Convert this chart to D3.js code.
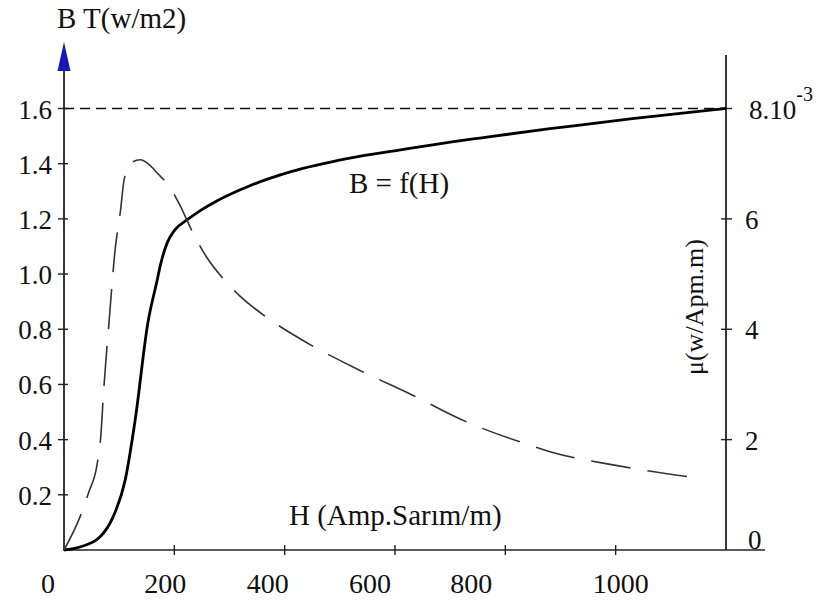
<!DOCTYPE html>
<html>
<head>
<meta charset="utf-8">
<script src="https://cdn.jsdelivr.net/npm/d3@7"></script>
<style>
  html, body { margin: 0; padding: 0; background: #fff; }
  svg { display: block; }
</style>
</head>
<body>
<svg id="chart" width="828" height="605"></svg>
<script>
(function () {
// ---- data ----
const bH = [0, 29, 65, 89, 111, 129, 152, 169, 174, 187, 201, 223, 247, 277, 337, 410, 518, 610, 700, 754, 881, 935, 1030, 1117, 1200];
const bValues = [0, 0.011, 0.047, 0.12, 0.254, 0.471, 0.823, 0.979, 1.026, 1.113, 1.16, 1.196, 1.23, 1.265, 1.32, 1.37, 1.42, 1.45, 1.478, 1.493, 1.527, 1.54, 1.563, 1.582, 1.6];
const muH = [0, 29, 45, 60, 67, 71, 83, 92, 103, 108, 114, 122, 138, 155, 169, 190, 210, 235, 259, 290, 319, 364, 431, 531, 631, 730, 832, 881, 1008, 1153];
const muValues = [0, 0.6, 1.05, 1.55, 2.1, 2.75, 4.3, 5.38, 6.2, 6.65, 6.9, 7.02, 7.07, 6.98, 6.83, 6.6, 6.25, 5.72, 5.3, 4.9, 4.6, 4.24, 3.81, 3.28, 2.81, 2.32, 1.94, 1.78, 1.52, 1.3];
const xTicks = [200, 400, 600, 800, 1000];
const xTickLabels = ["0", "200", "400", "600", "800", "1000"];
const xLabelValues = [0, 200, 400, 600, 800, 1000];
const bTicks = [0.2, 0.4, 0.6, 0.8, 1.0, 1.2, 1.4, 1.6];
const bTickLabels = ["0.2", "0.4", "0.6", "0.8", "1.0", "1.2", "1.4", "1.6"];
const muTicks = [2, 4, 6, 8];
const muTickLabels = ["2", "4", "6"];
const satB = 1.6;

// ---- layout ----
const FONT = "'Liberation Serif', 'Times New Roman', Times, Tinos, 'Noto Serif', 'DejaVu Serif', FreeSerif, 'Nimbus Roman', serif";
const xLabelNudge = [-16, -9, -17, -25, -34, 5];
const svg = d3.select("#chart")
  .attr("font-family", FONT);
svg.append("rect").attr("width", 828).attr("height", 605).attr("fill", "#fff");

const x = d3.scaleLinear().domain([0, 1200]).range([64, 726]);
const yB = d3.scaleLinear().domain([0, 1.6]).range([550, 108.5]);
const yMu = d3.scaleLinear().domain([0, 8]).range([550, 108.5]);

function txt(sel) { return sel.attr("font-family", FONT).attr("fill", "#111"); }

// saturation dashed line
svg.append("line")
  .attr("x1", x(0)).attr("x2", x(1200))
  .attr("y1", yB(satB)).attr("y2", yB(satB))
  .attr("stroke", "#111").attr("stroke-width", 1.6)
  .attr("stroke-dasharray", "10,6");

// x axis
svg.append("line").attr("x1", x(0) - 1).attr("x2", 765)
  .attr("y1", yB(0)).attr("y2", yB(0)).attr("stroke", "#222").attr("stroke-width", 1.6);
svg.selectAll(".xt").data(xTicks).enter().append("line")
  .attr("x1", d => x(d)).attr("x2", d => x(d))
  .attr("y1", yB(0) - 5).attr("y2", yB(0) + 5)
  .attr("stroke", "#222").attr("stroke-width", 1.4);
txt(svg.selectAll(".xl").data(xTickLabels).enter().append("text"))
  .attr("x", (d, i) => x(xLabelValues[i]) + xLabelNudge[i])
  .attr("y", 593)
  .attr("text-anchor", "middle")
  .attr("font-size", 28)
  .text(d => d);

// left axis
svg.append("line").attr("x1", x(0)).attr("x2", x(0))
  .attr("y1", 50).attr("y2", yB(0)).attr("stroke", "#222").attr("stroke-width", 1.8);
svg.append("path")
  .attr("d", `M${x(0)},42 L${x(0) - 6.5},71 L${x(0) + 6.5},71 Z`)
  .attr("fill", "#1818b8");
svg.selectAll(".yt").data(bTicks).enter().append("line")
  .attr("x1", x(0) - 6).attr("x2", x(0) + 4)
  .attr("y1", d => yB(d)).attr("y2", d => yB(d))
  .attr("stroke", "#222").attr("stroke-width", 1.4);
txt(svg.selectAll(".yl").data(bTickLabels).enter().append("text"))
  .attr("x", 52)
  .attr("y", (d, i) => yB(bTicks[i]) + 10)
  .attr("text-anchor", "end")
  .attr("font-size", 27)
  .text(d => d);

// right axis
svg.append("line").attr("x1", x(1200)).attr("x2", x(1200))
  .attr("y1", 55).attr("y2", yB(0)).attr("stroke", "#222").attr("stroke-width", 1.8);
svg.selectAll(".rt").data(muTicks).enter().append("line")
  .attr("x1", x(1200) - 5).attr("x2", x(1200) + 6)
  .attr("y1", d => yMu(d)).attr("y2", d => yMu(d))
  .attr("stroke", "#222").attr("stroke-width", 1.4);
txt(svg.selectAll(".rl").data(muTickLabels).enter().append("text"))
  .attr("x", 745)
  .attr("y", (d, i) => yMu(muTicks[i]) + 10)
  .attr("font-size", 27)
  .text(d => d);
txt(svg.append("text")).attr("x", 748).attr("y", yMu(0) - 1).attr("font-size", 27).text("0");
const topLabel = txt(svg.append("text")).attr("x", 749).attr("y", yMu(8) + 10).attr("font-size", 27);
topLabel.append("tspan").text("8.10");
topLabel.append("tspan").attr("dy", -18).attr("font-size", 20).text("-3");

txt(svg.append("text"))
  .attr("transform", "translate(703,307) rotate(-90)")
  .attr("text-anchor", "middle")
  .attr("font-size", 26)
  .text("μ(w/Apm.m)");

// curves
const lineB = d3.line().x((d, i) => x(bH[i])).y(d => yB(d)).curve(d3.curveMonotoneX);
svg.append("path").datum(bValues)
  .attr("d", lineB)
  .attr("fill", "none").attr("stroke", "#000").attr("stroke-width", 2.8)
  .attr("stroke-linejoin", "round");

const lineMu = d3.line().x((d, i) => x(muH[i])).y(d => yMu(d)).curve(d3.curveMonotoneX);
svg.append("path").datum(muValues)
  .attr("d", lineMu)
  .attr("fill", "none").attr("stroke", "#333").attr("stroke-width", 1.6)
  .attr("stroke-dasharray", "40,17");

// annotations
txt(svg.append("text")).attr("x", 57).attr("y", 28).attr("font-size", 29).text("B T(w/m2)");
txt(svg.append("text")).attr("x", 349).attr("y", 193).attr("font-size", 29).text("B = f(H)");
txt(svg.append("text")).attr("x", 289).attr("y", 525).attr("font-size", 29).text("H (Amp.Sarım/m)");
})();
</script>
</body>
</html>
